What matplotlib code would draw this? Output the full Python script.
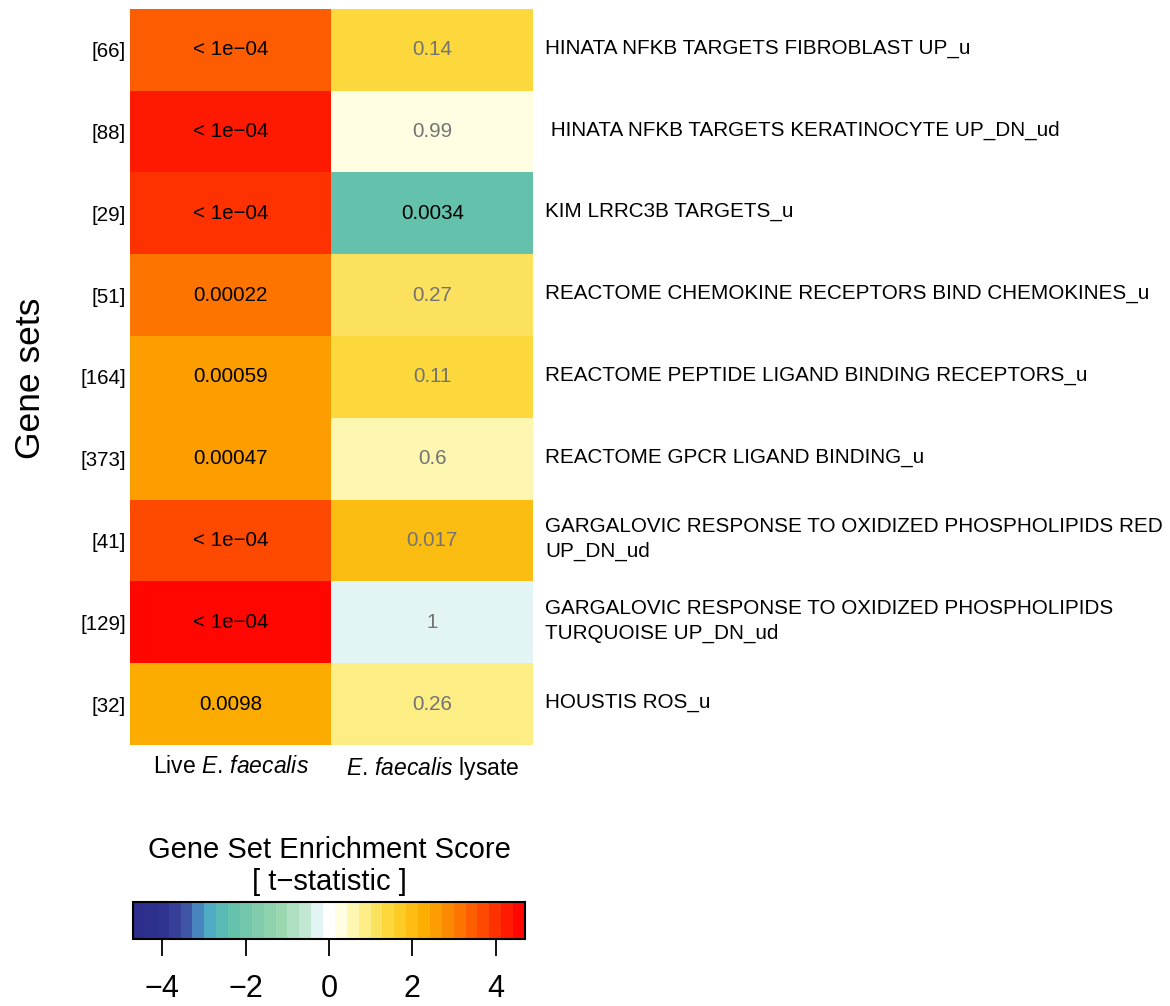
import matplotlib
matplotlib.use('Agg')

import numpy as np
import matplotlib.pyplot as plt
from matplotlib.colors import LinearSegmentedColormap, ListedColormap, BoundaryNorm
from matplotlib.cm import ScalarMappable

plt.rcParams['font.family'] = ['Liberation Sans', 'DejaVu Sans']
plt.rcParams['mathtext.fontset'] = 'custom'
plt.rcParams['mathtext.rm'] = 'Liberation Sans'
plt.rcParams['mathtext.it'] = 'Liberation Sans:italic'

# gene sets (top to bottom) with set sizes
set_sizes = ['[66]', '[88]', '[29]', '[51]', '[164]', '[373]', '[41]', '[129]', '[32]']
set_names = [
    'HINATA NFKB TARGETS FIBROBLAST UP_u',
    ' HINATA NFKB TARGETS KERATINOCYTE UP_DN_ud',
    'KIM LRRC3B TARGETS_u',
    'REACTOME CHEMOKINE RECEPTORS BIND CHEMOKINES_u',
    'REACTOME PEPTIDE LIGAND BINDING RECEPTORS_u',
    'REACTOME GPCR LIGAND BINDING_u',
    'GARGALOVIC RESPONSE TO OXIDIZED PHOSPHOLIPIDS RED\nUP_DN_ud',
    'GARGALOVIC RESPONSE TO OXIDIZED PHOSPHOLIPIDS\nTURQUOISE UP_DN_ud',
    'HOUSTIS ROS_u',
]
conditions = ['Live $\\mathit{E.\\,faecalis}$', '$\\mathit{E.\\,faecalis}$ lysate']

# t-statistics
t_live = [3.4, 4.3, 4.1, 3.0, 2.5, 2.55, 3.7, 4.7, 2.2]
t_lysate = [1.5, 0.2, -2.2, 1.1, 1.5, 0.6, 1.9, -0.2, 0.8]

# p-values printed in the cells
p_live = ['< 1e-04', '< 1e-04', '< 1e-04', '0.00022', '0.00059', '0.00047', '< 1e-04', '< 1e-04', '0.0098']
p_lysate = ['0.14', '0.99', '0.0034', '0.27', '0.11', '0.6', '0.017', '1', '0.26']

cbar_ticks = [-4, -2, 0, 2, 4]
t_lim = 4.7
n_bins = 33

# colour ramp: navy -> teal -> white -> yellow -> orange -> red
anchors = [
    (-4.7, '#2b2c8a'), (-3.9, '#30338f'), (-3.5, '#3d4ea3'), (-3.1, '#4a8cc2'),
    (-2.8, '#52b3c4'), (-2.4, '#60c0ad'), (-1.8, '#7ccaab'), (-1.2, '#98d7b0'),
    (-0.6, '#bfe6cf'), (-0.28, '#e3f4f4'), (0.0, '#ffffff'), (0.3, '#fffde0'),
    (0.7, '#fdf49c'), (1.1, '#fbe466'), (1.5, '#fdd532'), (1.9, '#fdc31a'),
    (2.3, '#fcad02'), (2.7, '#fc9500'), (3.1, '#fd7800'), (3.5, '#fe5a00'),
    (3.9, '#fe3a00'), (4.3, '#ff1a00'), (4.7, '#ff0000'),
]
ramp = LinearSegmentedColormap.from_list(
    'gse', [((v + t_lim) / (2 * t_lim), c) for v, c in anchors])
bounds = np.linspace(-t_lim, t_lim, n_bins + 1)
centers = (bounds[:-1] + bounds[1:]) / 2
cmap = ListedColormap([ramp((c + t_lim) / (2 * t_lim)) for c in centers])
norm = BoundaryNorm(bounds, cmap.N)


def p_num(s):
    return 0.0 if s.startswith('<') else float(s)


W, H = 1170, 1006
fig = plt.figure(figsize=(W / 100, H / 100), dpi=100)

ax = fig.add_axes([130 / W, 1 - 745 / H, 403 / W, 736 / H])
data = np.column_stack([t_live, t_lysate])
ax.imshow(data, cmap=cmap, norm=norm, aspect='auto', interpolation='nearest')

for j, col in enumerate([p_live, p_lysate]):
    for i, s in enumerate(col):
        color = 'black' if p_num(s) < 0.01 else '#737373'
        ax.text(j, i, s.replace('-', '\u2212'), ha='center', va='center',
                fontsize=14.8, color=color)

for sp in ax.spines.values():
    sp.set_visible(False)
ax.set_yticks(range(len(set_sizes)))
ax.set_yticklabels(set_sizes, fontsize=14.8)
ax.set_xticks(range(len(conditions)))
ax.set_xticklabels(conditions, fontsize=16.5)
ax.tick_params(length=0, axis='y', pad=3)
ax.tick_params(length=0, axis='x', pad=7)

x_names = 1.5 + 12 / 201.5
for i, name in enumerate(set_names):
    ax.text(x_names, i - 0.02, name, ha='left', va='center', fontsize=14.9,
            linespacing=1.38)

fig.text(30 / W, 1 - 378 / H, 'Gene sets', rotation=90, ha='center', va='center',
         fontsize=25.5)

# colour key
cax = fig.add_axes([133 / W, 1 - 939 / H, 392 / W, 37 / H])
cb = fig.colorbar(ScalarMappable(norm=norm, cmap=cmap), cax=cax,
                  orientation='horizontal', ticks=cbar_ticks)
cb.minorticks_off()
cb.outline.set_linewidth(1.5)
cb.ax.tick_params(length=12.5, width=1.3, pad=13, labelsize=22)
cb.set_ticklabels([str(t).replace('-', '\u2212') for t in cbar_ticks])
cb.ax.set_xlim(-t_lim, t_lim)
fig.text(329 / W, 1 - 866 / H, 'Gene Set Enrichment Score\n[ t\u2212statistic ]',
         ha='center', va='center', fontsize=21, linespacing=1.2)

fig.savefig('out.png', dpi=100)
